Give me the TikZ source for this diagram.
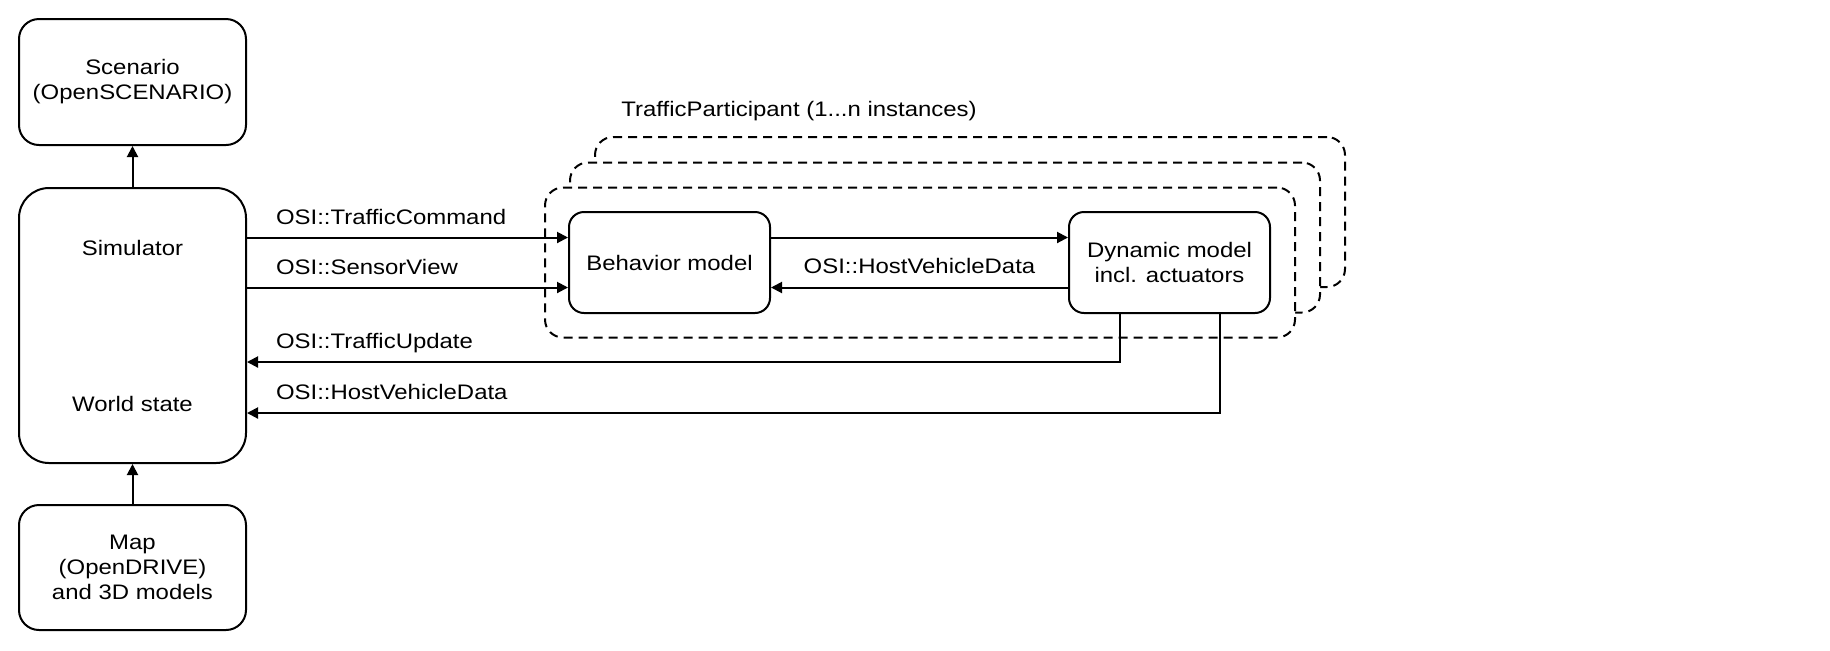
\documentclass[tikz,border=0pt]{standalone}
\usepackage{fontspec}
\setmainfont{Liberation Sans}[FakeStretch=1.14]
\usetikzlibrary{arrows.meta,calc}
\begin{document}
\begin{tikzpicture}[x=0.5pt,y=-0.5pt,
  every node/.style={font=\fontsize{10.5}{12.5}\selectfont},
  box/.style={draw, line width=1pt, fill=white, align=center, inner sep=0pt},
  pbox/.style={draw, dash pattern=on 4.5pt off 3pt, line width=1pt, fill=white,
    rounded corners=9pt, minimum width=375pt, minimum height=75pt, inner sep=0pt},
  arr/.style={line width=1pt, -{Triangle[length=5.5pt,width=5.5pt]}},
  lab/.style={anchor=base west, inner sep=0pt, xshift=14pt, yshift=6.75pt},
]
\fill[white] (0,0) rectangle (1830,650);
\useasboundingbox (0,0) rectangle (1830,650);

% left column
\node[box, rounded corners=10pt, minimum width=113.5pt, minimum height=63pt] (scen) at (132.5,82) {Scenario\\(OpenSCENARIO)};
\node[box, rounded corners=15pt, minimum width=113.5pt, minimum height=137.5pt] (sim) at (132.5,325.5) {Simulator\\[65.5pt]World state};
\node[box, rounded corners=10pt, minimum width=113.5pt, minimum height=62.5pt] (map) at (132.5,567.5) {Map\\(OpenDRIVE)\\and 3D models};

% traffic participant stack
\node[anchor=west, inner sep=0pt] (tplab) at (621,111) {TrafficParticipant (1...n instances)};
\node[pbox] (b3) at (970,212) {};
\node[pbox] (b2) at (945,237.5) {};
\node[pbox] (b1) at (920,262.5) {};
\node[box, rounded corners=7.5pt, minimum width=100.5pt, minimum height=50.5pt] (beh) at (669.5,262.5) {Behavior model};
\node[box, rounded corners=7.5pt, minimum width=100.5pt, minimum height=50.5pt] (dyn) at (1169.5,262.5) {Dynamic model\\incl. actuators};

% connectors
\draw[arr] (sim.north) -- (scen.south);
\draw[arr] (map.north) -- (sim.south);

\coordinate (bw1) at ($(beh.west)+(0,-25)$);
\coordinate (bw2) at ($(beh.west)+(0,25)$);
\draw[arr] (sim.east |- bw1) -- node[pos=0, lab] {OSI::TrafficCommand} (bw1);
\draw[arr] (sim.east |- bw2) -- node[pos=0, lab] {OSI::SensorView} (bw2);

\draw[arr] ($(beh.east)+(0,-25)$) -- ($(dyn.west)+(0,-25)$);
\draw[arr] ($(dyn.west)+(0,25)$) -- node[midway, anchor=base, inner sep=0pt, yshift=7pt] {OSI::HostVehicleData} ($(beh.east)+(0,25)$);

\draw[arr] ($(dyn.south)+(-49.5,0)$) |- node[pos=1, lab] {OSI::TrafficUpdate} ($(sim.east)+(0,36.5)$);
\draw[arr] ($(dyn.south)+(50.5,0)$) |- node[pos=1, lab] {OSI::HostVehicleData} ($(sim.east)+(0,87.5)$);
\end{tikzpicture}
\end{document}
